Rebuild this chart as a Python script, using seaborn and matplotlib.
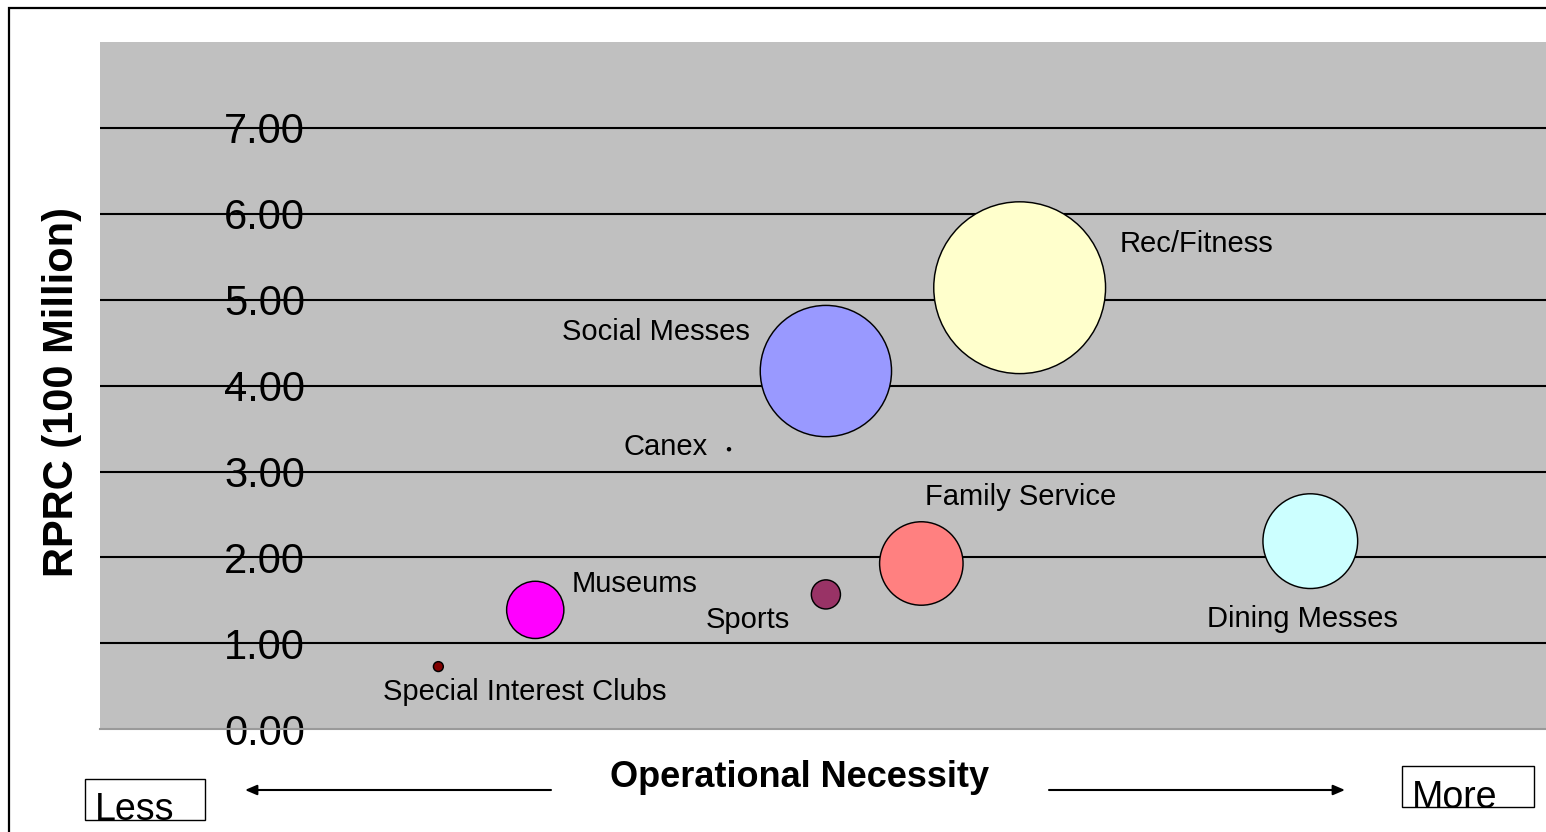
import matplotlib
matplotlib.use("Agg")
import matplotlib.pyplot as plt
from matplotlib.patches import Rectangle
import seaborn as sns
import pandas as pd

# ---- data ----
categories = ["Special Interest Clubs", "Museums", "Sports", "Canex",
              "Social Messes", "Rec/Fitness", "Family Service", "Dining Messes"]
necessity = [2.34, 3.01, 5.02, 4.35, 5.02, 6.36, 5.68, 8.37]      # operational necessity (relative)
rprc = [0.73, 1.39, 1.57, 3.26, 4.17, 5.14, 1.93, 2.19]          # RPRC (100 Million)
bubble_value = [0.33, 11.1, 2.87, 0.03, 58.4, 100.0, 23.6, 30.4]  # bubble size value
y_ticks = [0, 1, 2, 3, 4, 5, 6, 7]
y_tick_labels = ["0.00", "1.00", "2.00", "3.00", "4.00", "5.00", "6.00", "7.00"]

# ---- styling ----
colors = ["#800000", "#FF00FF", "#993366", "#000000",
          "#9999FF", "#FFFFCC", "#FF8080", "#CCFFFF"]
label_offsets = [(86, -33), (99, 18), (-78, -34), (-63, -6),
                 (-170, 31), (177, 36), (99, 58), (-8, -86)]

plt.rcParams["font.family"] = ["Liberation Sans", "DejaVu Sans"]

df = pd.DataFrame({"cat": categories, "x": necessity, "y": rprc, "v": bubble_value})

W, H = 1546, 832
fig = plt.figure(figsize=(W / 100, H / 100), dpi=100)
fig.patch.set_facecolor("white")

ax_left, ax_bottom_px, ax_top_px = 100, 729.3, 42
ax = fig.add_axes([ax_left / W, (H - ax_bottom_px) / H,
                   (W - ax_left) / W, (ax_bottom_px - ax_top_px) / H])
ax.set_facecolor("#C0C0C0")

sns.scatterplot(data=df, x="x", y="y", hue="cat", palette=dict(zip(categories, colors)),
                size="v", sizes=(0, 15300), size_norm=(0, 100),
                edgecolor="black", linewidth=1.05, alpha=1, legend=False, ax=ax, zorder=3)

for name, xv, yv, off in zip(categories, necessity, rprc, label_offsets):
    ax.annotate(name, (xv, yv), xytext=off, textcoords="offset pixels",
                ha="center", va="baseline", fontsize=21, color="black", zorder=4)

ax.set_xlim(0, 10)
ax.set_ylim(0, 8)
ax.set_xticks([])
ax.set_yticks(y_ticks)
ax.set_yticklabels(y_tick_labels, fontsize=30)
ax.tick_params(axis="y", length=0, pad=-147.5)
ax.set_axisbelow(True)
ax.grid(axis="y", color="black", linewidth=1.5)
ax.grid(axis="x", visible=False)
for gl, v in zip(ax.get_ygridlines(), y_ticks):
    if v == 0:
        gl.set_visible(False)

for side in ["top", "right", "left"]:
    ax.spines[side].set_visible(False)
ax.spines["bottom"].set_color("#9A9A9A")
ax.spines["bottom"].set_linewidth(1.5)

ax.set_ylabel("RPRC (100 Million)", fontsize=30, fontweight="bold", va="center")
ax.yaxis.set_label_coords((62 - ax_left) / (W - ax_left),
                          (ax_bottom_px - 392) / (ax_bottom_px - ax_top_px))
ax.set_xlabel("Operational Necessity", fontsize=26, fontweight="bold", va="baseline")
ax.xaxis.set_label_coords((800 - ax_left) / (W - ax_left),
                          (ax_bottom_px - 787) / (ax_bottom_px - ax_top_px))

# ---- figure decorations (pixel helpers) ----
def fx(px):
    return px / W

def fy(py):
    return (H - py) / H

# outer frame (only left and top visible)
fig.patches.append(Rectangle((fx(9), fy(900)), 1.2, fy(8) - fy(900),
                             transform=fig.transFigure, fill=False,
                             edgecolor="black", linewidth=1.6, zorder=0))

# Less / More boxes
fig.patches.append(Rectangle((fx(85), fy(820)), fx(205) - fx(85), fy(779) - fy(820),
                             transform=fig.transFigure, fill=False,
                             edgecolor="black", linewidth=1.0))
fig.text(fx(95), fy(820), "Less", fontsize=27, ha="left", va="baseline")
fig.patches.append(Rectangle((fx(1402), fy(807)), fx(1534) - fx(1402), fy(766) - fy(807),
                             transform=fig.transFigure, fill=False,
                             edgecolor="black", linewidth=1.0))
fig.text(fx(1412), fy(808), "More", fontsize=27, ha="left", va="baseline")

arrow_style = dict(arrowstyle="-|>,head_length=0.35,head_width=0.15",
                   color="black", linewidth=1.5, mutation_scale=20,
                   shrinkA=0, shrinkB=0)
fig.add_artist(matplotlib.patches.FancyArrowPatch((fx(551), fy(790)), (fx(245), fy(790)),
                                                  transform=fig.transFigure, **arrow_style))
fig.add_artist(matplotlib.patches.FancyArrowPatch((fx(1049), fy(790)), (fx(1345), fy(790)),
                                                  transform=fig.transFigure, **arrow_style))

fig.savefig("out.png", dpi=100)
